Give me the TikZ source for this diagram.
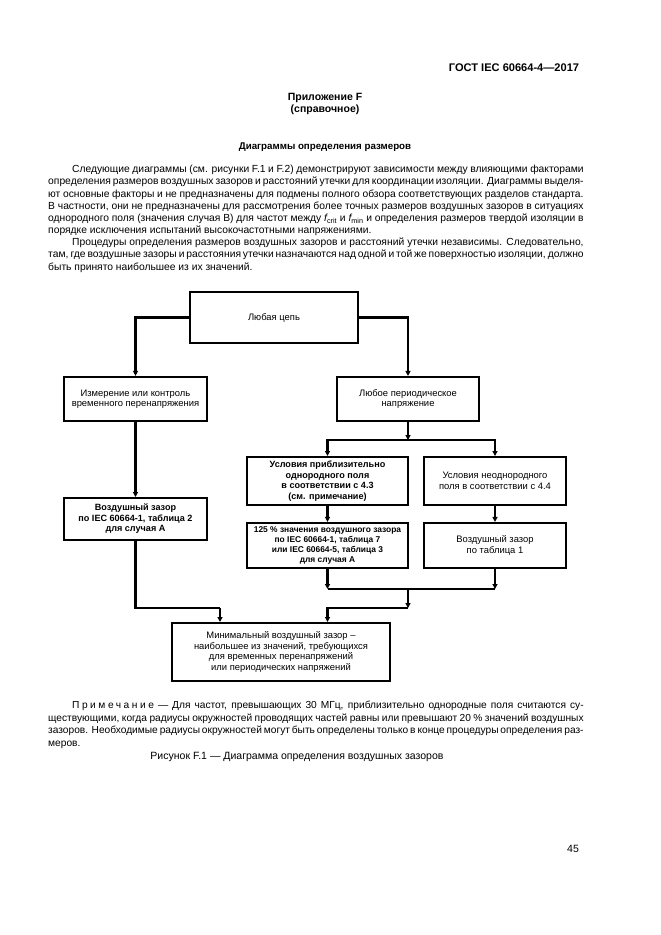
\documentclass[tikz,border=0pt]{standalone}
\usepackage{fontspec}
\setmainfont{Liberation Sans}
\usetikzlibrary{arrows.meta}

\newlength{\strokaw}\setlength{\strokaw}{170mm}
\newcommand{\stroka}[1]{\makebox[\strokaw][s]{#1}}

\tikzset{
  blok/.style={draw, line width=1.9pt, align=center, inner sep=1pt,
    font=\fontsize{8.5}{9.5}\selectfont},
  zhirn/.style={font=\bfseries\fontsize{8.2}{9.5}\selectfont},
  svyaz/.style={line width=1.9pt, -{Triangle[length=4.5pt,width=4.5pt]}},
  linia/.style={line width=1.9pt},
}

\begin{document}
\begin{tikzpicture}[x=0.3175mm, y=-0.3175mm]
\useasboundingbox (0,0) rectangle (661,935);
% шапка страницы
\node[anchor=east, font=\bfseries\fontsize{10}{12}\selectfont] (gost) at (583,68) {ГОСТ IEC 60664-4—2017};
\node[align=center, font=\bfseries\fontsize{9.5}{11}\selectfont] (pril) at (325,104) {Приложение F\\(справочное)};
\node[font=\bfseries\fontsize{8.8}{12}\selectfont] (zag) at (325,147) {Диаграммы определения размеров};
% текст
\node[anchor=north west, inner sep=0pt, align=left, font=\fontsize{9.3}{11}\selectfont] (tekst) at (48,165) {%
\stroka{\hspace*{7.6mm}Следующие диаграммы (см. рисунки F.1 и F.2) демонстрируют зависимости между влияющими факторами}\\
\stroka{определения размеров воздушных зазоров и расстояний утечки для координации изоляции. Диаграммы выделя-}\\
\stroka{ют основные факторы и не предназначены для подмены полного обзора соответствующих разделов стандарта.}\\
\stroka{В частности, они не предназначены для рассмотрения более точных размеров воздушных зазоров в ситуациях}\\
\stroka{однородного поля (значения случая В) для частот между {\itshape f}\textsubscript{crit} и {\itshape f}\textsubscript{min} и определения размеров твердой изоляции в}\\
порядке исключения испытаний высокочастотными напряжениями.\\
\stroka{\hspace*{7.6mm}Процедуры определения размеров воздушных зазоров и расстояний утечки независимы. Следовательно,}\\
\stroka{там, где воздушные зазоры и расстояния утечки назначаются над одной и той же поверхностью изоляции, должно}\\
быть принято наибольшее из их значений.};
% блоки схемы
\node[blok, minimum width=53.3mm, minimum height=16.2mm] (cep) at (274,317.5) {Любая цепь};
\node[blok, minimum width=45.4mm, minimum height=14mm] (izm) at (135.5,399) {Измерение или контроль\\временного перенапряжения};
\node[blok, minimum width=45.1mm, minimum height=14mm] (period) at (408,399) {Любое периодическое\\напряжение};
\node[blok, zhirn, minimum width=51.1mm, minimum height=15.2mm] (odnor) at (327.5,481) {Условия приблизительно\\однородного поля\\в соответствии с 4.3\\(см. примечание)};
\node[blok, minimum width=45.1mm, minimum height=15.2mm] (neodn) at (495,481) {Условия неоднородного\\поля в соответствии с 4.4};
\node[blok, zhirn, minimum width=45.4mm, minimum height=13.3mm] (zazor2) at (135.5,519) {Воздушный зазор\\по IEC 60664-1, таблица 2\\для случая A};
\node[blok, zhirn, font=\bfseries\fontsize{7.6}{9}\selectfont, minimum width=51.1mm, minimum height=14.3mm] (proc) at (327.5,545.5) {125 \% значения воздушного зазора\\по IEC 60664-1, таблица 7\\или IEC 60664-5, таблица 3\\для случая A};
\node[blok, minimum width=45.1mm, minimum height=14.3mm] (zazor1) at (495,545.5) {Воздушный зазор\\по таблица 1};
\node[blok, minimum width=69.2mm, minimum height=18.4mm] (minzaz) at (281,652) {Минимальный воздушный зазор –\\наибольшее из значений, требующихся\\для временных перенапряжений\\или периодических напряжений};
% связи
\draw[svyaz] (cep.west) -| (izm.north);
\draw[svyaz] (cep.east) -| (period.north);
\draw[svyaz] (izm) -- (zazor2);
\coordinate (razv) at (408,440);
\draw[svyaz] (period) -- (razv);
\draw[svyaz] (razv) -| (odnor.north);
\draw[svyaz] (razv) -| (neodn.north);
\draw[svyaz] (odnor) -- (proc);
\draw[svyaz] (neodn) -- (zazor1);
\coordinate (sliv) at (408,589);
\draw[svyaz] (proc.south) -- (proc.south |- sliv);
\draw[svyaz] (zazor1.south) -- (zazor1.south |- sliv);
\draw[linia] (proc.south |- sliv) -- (zazor1.south |- sliv);
\coordinate (povorot) at (408,608);
\draw[svyaz] (sliv) -- (povorot);
\draw[svyaz] (povorot) -| (proc.south |- minzaz.north);
\coordinate (levyj) at (220,608);
\draw[linia] (zazor2.south) |- (levyj);
\draw[svyaz] (levyj) -- (levyj |- minzaz.north);
% примечание и подпись
\node[anchor=north west, inner sep=0pt, align=left, font=\fontsize{9.2}{11.3}\selectfont] (prim) at (48,701) {%
\stroka{\hspace*{7.6mm}{\addfontfeature{LetterSpace=25}Примечание} — Для частот, превышающих 30 МГц, приблизительно однородные поля считаются су-}\\
\stroka{ществующими, когда радиусы окружностей проводящих частей равны или превышают 20 \% значений воздушных}\\
\stroka{зазоров. Необходимые радиусы окружностей могут быть определены только в конце процедуры определения раз-}\\
меров.};
\node[font=\fontsize{9.5}{12}\selectfont] (podpis) at (297,757) {Рисунок F.1 — Диаграмма определения воздушных зазоров};
\node[font=\fontsize{9.5}{12}\selectfont] (nomer) at (573,849) {45};
\end{tikzpicture}
\end{document}
